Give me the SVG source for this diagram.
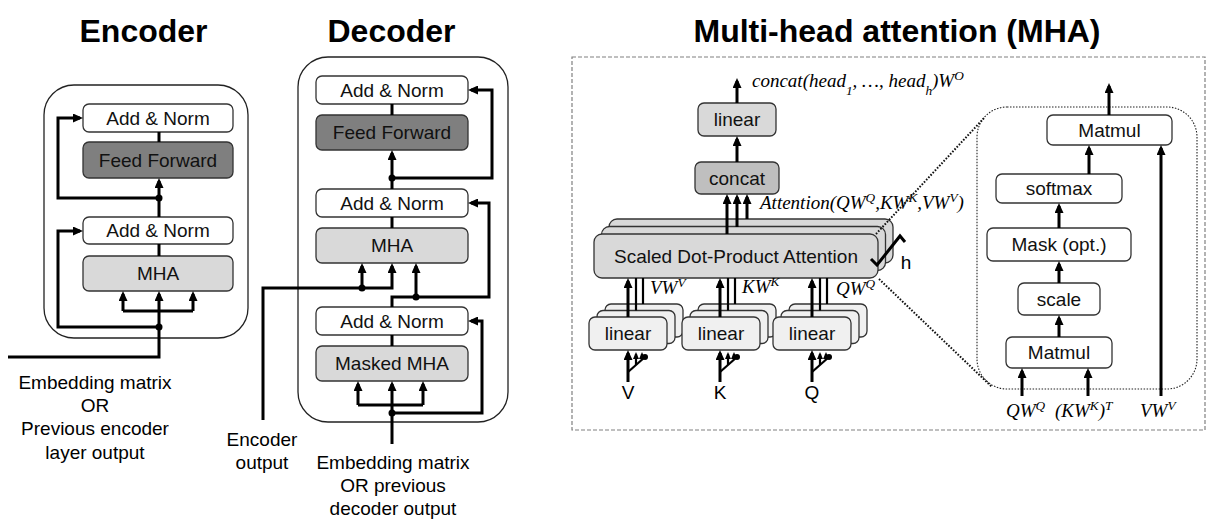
<svg xmlns="http://www.w3.org/2000/svg" width="1209" height="521" viewBox="0 0 1209 521">
<defs>
<marker id="ah" viewBox="0 0 10 9" refX="7" refY="4.5" markerWidth="10" markerHeight="9" markerUnits="userSpaceOnUse" orient="auto"><path d="M0,0 L10,4.5 L0,9 z" fill="#000"/></marker>
<marker id="as" viewBox="0 0 7 6" refX="5" refY="3" markerWidth="7" markerHeight="6" markerUnits="userSpaceOnUse" orient="auto"><path d="M0,0 L7,3 L0,6 z" fill="#000"/></marker>
<style>
.title{font-family:"Liberation Sans",Arial,sans-serif;font-weight:bold;font-size:32px;text-anchor:middle;fill:#000}
.t{font-family:"Liberation Sans",Arial,sans-serif;font-size:19px;text-anchor:middle;fill:#111}
.lbl{font-family:"Liberation Sans",Arial,sans-serif;font-size:19px;text-anchor:middle;fill:#000}
.m{font-family:"Liberation Serif","Times New Roman",serif;font-style:italic;font-size:19px;fill:#000}
.box{stroke:#333;stroke-width:1.3}
.white{fill:#fff}
.ff{fill:#7f7f7f}
.lg{fill:#d9d9d9}
.mg{fill:#bfbfbf}
.vl{fill:#f0f0f0}
.outer{fill:none;stroke:#222;stroke-width:1.3}
.c{fill:none;stroke:#000;stroke-width:3}
.cs{fill:none;stroke:#000;stroke-width:2.2}
.ar{marker-end:url(#ah)}
.sa{marker-end:url(#as)}
.dot{fill:#000}
.dotted{fill:none;stroke:#111;stroke-width:2;stroke-dasharray:1.6 1.6}
</style>
</defs>
<rect width="1209" height="521" fill="#fff"/>

<text class="title" x="143.5" y="42">Encoder</text>
<text class="title" x="391.5" y="42">Decoder</text>
<text class="title" x="897" y="42">Multi-head attention (MHA)</text>

<!-- Encoder -->
<g id="encoder">
<rect class="outer" x="44" y="85" width="204" height="253" rx="30"/>
<g id="enc-addnorm1"><rect class="box white" x="83" y="104" width="150" height="28" rx="6"/><text class="t" x="158" y="125">Add &amp; Norm</text></g>
<g id="enc-ff"><rect class="box ff" x="83" y="142" width="150" height="36" rx="6"/><text class="t" x="158" y="167">Feed Forward</text></g>
<g id="enc-addnorm2"><rect class="box white" x="83" y="217" width="150" height="27" rx="6"/><text class="t" x="158" y="237">Add &amp; Norm</text></g>
<g id="enc-mha"><rect class="box lg" x="83" y="256" width="150" height="35" rx="6"/><text class="t" x="158" y="280">MHA</text></g>
<g id="enc-label"><text class="lbl" x="95" y="389">Embedding matrix</text><text class="lbl" x="95" y="412">OR</text><text class="lbl" x="95" y="435">Previous encoder</text><text class="lbl" x="95" y="459">layer output</text></g>
</g>

<!-- Decoder -->
<g id="decoder">
<rect class="outer" x="298" y="57" width="210" height="365" rx="30"/>
<g id="dec-addnorm1"><rect class="box white" x="316" y="76" width="152" height="28" rx="6"/><text class="t" x="392" y="97">Add &amp; Norm</text></g>
<g id="dec-ff"><rect class="box ff" x="316" y="115" width="152" height="35" rx="6"/><text class="t" x="392" y="139">Feed Forward</text></g>
<g id="dec-addnorm2"><rect class="box white" x="316" y="189" width="152" height="28" rx="6"/><text class="t" x="392" y="210">Add &amp; Norm</text></g>
<g id="dec-mha"><rect class="box lg" x="316" y="228" width="152" height="35" rx="6"/><text class="t" x="392" y="252">MHA</text></g>
<g id="dec-addnorm3"><rect class="box white" x="316" y="307" width="152" height="28" rx="6"/><text class="t" x="392" y="328">Add &amp; Norm</text></g>
<g id="dec-masked"><rect class="box lg" x="316" y="346" width="152" height="35" rx="6"/><text class="t" x="392" y="370">Masked MHA</text></g>
<g id="dec-enc-label"><text class="lbl" x="262" y="446">Encoder</text><text class="lbl" x="262" y="469">output</text></g>
<g id="dec-label"><text class="lbl" x="393" y="469">Embedding matrix</text><text class="lbl" x="393" y="492">OR previous</text><text class="lbl" x="393" y="515">decoder output</text></g>
</g>

<!-- MHA -->
<g id="mha">
<rect x="572" y="57" width="633" height="373" fill="none" stroke="#808080" stroke-width="1.2" stroke-dasharray="4 2"/>
<g id="mha-linear-top"><rect class="box lg" x="698" y="103" width="78" height="33" rx="6"/><text class="t" x="737" y="126">linear</text></g>
<g id="mha-concat"><rect class="box mg" x="695" y="162" width="84" height="32" rx="6"/><text class="t" x="737" y="185">concat</text></g>
<text class="m" x="752" y="87">concat(head<tspan baseline-shift="sub" font-size="70%">1</tspan>, …, head<tspan baseline-shift="sub" font-size="70%">h</tspan>)W<tspan baseline-shift="super" font-size="70%">O</tspan></text>
<g id="mha-sdpa">
<rect class="box lg" x="609" y="219" width="284" height="44" rx="8"/>
<rect class="box lg" x="601.5" y="226.5" width="284" height="44" rx="8"/>
<rect class="box lg" x="594" y="234" width="284" height="44" rx="8"/>
<text class="t" x="736" y="263">Scaled Dot-Product Attention</text>
</g>
<text class="m" x="760" y="209">Attention(QW<tspan baseline-shift="super" font-size="70%">Q</tspan>,KW<tspan baseline-shift="super" font-size="70%">K</tspan>,VW<tspan baseline-shift="super" font-size="70%">V</tspan>)</text>
<polyline class="c" points="871,259 877,265 900,236 905,242"/>
<text class="lbl" x="906" y="269">h</text>

<g id="mha-linear-v">
<rect class="box vl" x="605" y="304" width="78" height="33" rx="6"/>
<rect class="box vl" x="597" y="310.5" width="78" height="33" rx="6"/>
<rect class="box vl" x="589" y="317" width="78" height="33" rx="6"/>
<text class="t" x="628" y="340">linear</text>
</g>
<g id="mha-linear-k">
<rect class="box vl" x="698" y="304" width="78" height="33" rx="6"/>
<rect class="box vl" x="690" y="310.5" width="78" height="33" rx="6"/>
<rect class="box vl" x="682" y="317" width="78" height="33" rx="6"/>
<text class="t" x="721" y="340">linear</text>
</g>
<g id="mha-linear-q">
<rect class="box vl" x="789" y="304" width="78" height="33" rx="6"/>
<rect class="box vl" x="781" y="310.5" width="78" height="33" rx="6"/>
<rect class="box vl" x="773" y="317" width="78" height="33" rx="6"/>
<text class="t" x="812" y="340">linear</text>
</g>
<text class="m" x="650" y="294">VW<tspan baseline-shift="super" font-size="70%">V</tspan></text>
<text class="m" x="742" y="293">KW<tspan baseline-shift="super" font-size="70%">K</tspan></text>
<text class="m" x="836" y="295">QW<tspan baseline-shift="super" font-size="70%">Q</tspan></text>
<text class="lbl" x="628" y="399">V</text>
<text class="lbl" x="720" y="399">K</text>
<text class="lbl" x="812" y="399">Q</text>

<g id="sdpa-detail">
<rect x="977" y="107" width="220" height="282" rx="30" fill="none" stroke="#222" stroke-width="1.1" stroke-dasharray="1.5 1.5"/>
<g id="sd-matmul-top"><rect class="box white" x="1047" y="115" width="125" height="30" rx="6"/><text class="t" x="1109.5" y="137">Matmul</text></g>
<g id="sd-softmax"><rect class="box white" x="996" y="174" width="126" height="29" rx="6"/><text class="t" x="1059" y="195">softmax</text></g>
<g id="sd-mask"><rect class="box white" x="987" y="228" width="144" height="33" rx="6"/><text class="t" x="1059" y="251">Mask (opt.)</text></g>
<g id="sd-scale"><rect class="box white" x="1018" y="283" width="82" height="32" rx="6"/><text class="t" x="1059" y="306">scale</text></g>
<g id="sd-matmul-bot"><rect class="box white" x="1006" y="337" width="106" height="31" rx="6"/><text class="t" x="1059" y="359">Matmul</text></g>
<text class="m" x="1006" y="417">QW<tspan baseline-shift="super" font-size="70%">Q</tspan></text>
<text class="m" x="1055" y="417">(KW<tspan baseline-shift="super" font-size="70%">K</tspan>)<tspan baseline-shift="super" font-size="70%">T</tspan></text>
<text class="m" x="1140" y="417">VW<tspan baseline-shift="super" font-size="70%">V</tspan></text>
</g>
</g>

<!-- connectors -->
<g id="connectors">
<!-- encoder -->
<path class="c" d="M159,132 L159,142"/>
<path class="c ar" d="M159,217 L159,181"/>
<path class="c ar" d="M159,198 L58,198 L58,118 L80,118"/>
<path class="c" d="M159,244 L159,256"/>
<path class="c" d="M123,311 L193,311"/>
<path class="c ar" d="M123,311 L123,294"/>
<path class="c ar" d="M193,311 L193,294"/>
<path class="c ar" d="M8,357 L159,357 L159,294"/>
<path class="c ar" d="M159,327 L58,327 L58,231 L80,231"/>
<circle class="dot" cx="159" cy="198" r="3.5"/>
<circle class="dot" cx="159" cy="327" r="3.5"/>
<!-- decoder -->
<path class="c" d="M392,104 L392,115"/>
<path class="c ar" d="M392,189 L392,153"/>
<path class="c ar" d="M392,178 L492,178 L492,90 L471,90"/>
<path class="c" d="M392,217 L392,228"/>
<path class="c ar" d="M263,420 L263,288 L392,288 L392,266"/>
<path class="c ar" d="M362,288 L362,266"/>
<circle class="dot" cx="362" cy="288" r="3.5"/>
<path class="c ar" d="M392,307 L392,297 L489,297 L489,203 L471,203"/>
<path class="c ar" d="M416,297 L416,266"/>
<circle class="dot" cx="416" cy="297" r="3.5"/>
<circle class="dot" cx="392" cy="178" r="3.5"/>
<path class="c" d="M392,335 L392,346"/>
<path class="c" d="M358,405 L423,405"/>
<path class="c ar" d="M358,405 L358,384"/>
<path class="c ar" d="M423,405 L423,384"/>
<path class="c ar" d="M392,444 L392,384"/>
<path class="c ar" d="M392,413 L482,413 L482,321 L471,321"/>
<circle class="dot" cx="392" cy="413" r="3.5"/>
<!-- MHA -->
<path class="c ar" d="M737,103 L737,81"/>
<path class="c ar" d="M737,162 L737,139"/>
<path class="c ar" d="M727,234 L727,197"/>
<path class="c ar" d="M737,227 L737,197"/>
<path class="c ar" d="M747,219 L747,197"/>
<!-- linear to SDPA -->
<path class="c ar" d="M628,317 L628,281"/>
<path class="cs" d="M636,310.5 L636,278"/>
<path class="cs" d="M643,304 L643,278"/>
<path class="c ar" d="M720,317 L720,281"/>
<path class="cs" d="M728,310.5 L728,278"/>
<path class="cs" d="M735,304 L735,278"/>
<path class="c ar" d="M812,317 L812,281"/>
<path class="cs" d="M820,310.5 L820,278"/>
<path class="cs" d="M827,304 L827,278"/>
<!-- V/K/Q forks -->
<path class="c ar" d="M628,382 L628,353"/>
<path class="cs" d="M628,372 L645,357"/>
<path class="cs sa" d="M636,365 L636,354"/>
<path class="cs sa" d="M642,360 L642,354"/>
<circle class="dot" cx="645" cy="357" r="3"/>
<path class="c ar" d="M720,382 L720,353"/>
<path class="cs" d="M720,372 L737,357"/>
<path class="cs sa" d="M728,365 L728,354"/>
<path class="cs sa" d="M734,360 L734,354"/>
<circle class="dot" cx="737" cy="357" r="3"/>
<path class="c ar" d="M812,382 L812,353"/>
<path class="cs" d="M812,372 L829,357"/>
<path class="cs sa" d="M820,365 L820,354"/>
<path class="cs sa" d="M826,360 L826,354"/>
<circle class="dot" cx="829" cy="357" r="3"/>
<!-- zoom dotted -->
<path class="dotted" d="M876,234 L985,117"/>
<path class="dotted" d="M879,279 L992,387"/>
<!-- SDPA detail -->
<path class="c ar" d="M1109,115 L1109,86"/>
<path class="c ar" d="M1089,174 L1089,148"/>
<path class="c ar" d="M1059,228 L1059,206"/>
<path class="c ar" d="M1059,283 L1059,264"/>
<path class="c ar" d="M1059,337 L1059,318"/>
<path class="c ar" d="M1022,396 L1022,371"/>
<path class="c ar" d="M1088,396 L1088,371"/>
<path class="c ar" d="M1161,396 L1161,148"/>
</g>
</svg>
